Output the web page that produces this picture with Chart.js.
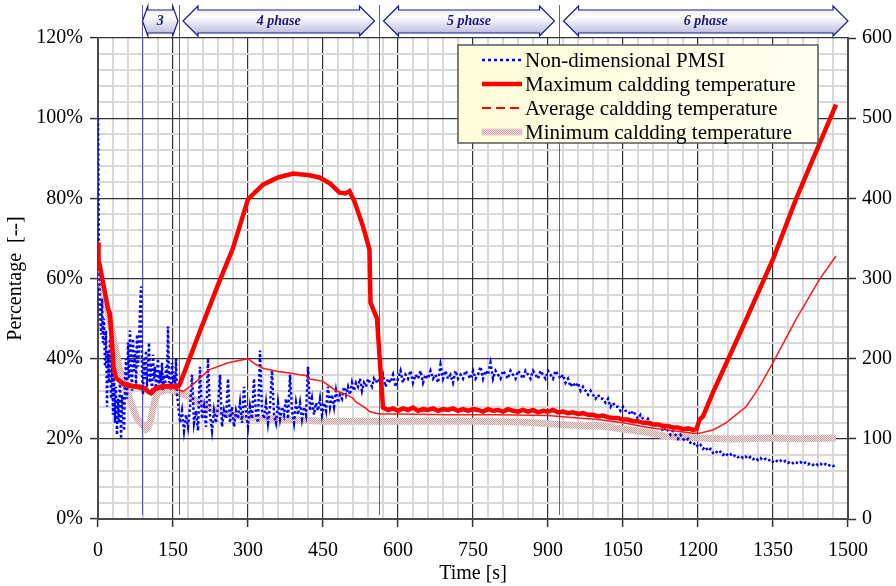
<!DOCTYPE html>
<html>
<head>
<meta charset="utf-8">
<script src="https://cdn.jsdelivr.net/npm/chart.js@4.4.1/dist/chart.umd.min.js"></script>
<style>
  html, body { margin: 0; padding: 0; background: #ffffff; }
  #wrap { width: 896px; height: 586px; position: relative; }
</style>
</head>
<body>
<div id="wrap"><canvas id="chart" width="896" height="586"></canvas></div>
<script>
// ---- PMSI (non-dimensional, %) sampled in three blocks ----
const pmsiEarlyStart = 0, pmsiEarlyStep = 2;
const pmsiEarly = [
  100, 64,
  52, 46, 55, 44, 50, 38, 47, 28, 42,
  34, 45, 30, 39, 26, 36, 24, 33, 21, 30,
  24, 35, 20, 31, 26, 22, 34, 40, 30, 44,
  35, 47, 38, 32, 45, 37, 42, 33, 46, 38,
  43, 52, 58, 36, 31, 40, 35, 42, 33, 38,
  44, 34, 39, 31, 41, 35, 38, 32, 36, 40,
  33, 37, 34, 39, 32, 36, 33, 38, 35, 48,
  34, 37, 32, 39, 34, 36, 33, 40, 31
];
const pmsiMidStart = 160, pmsiMidStep = 4;
const pmsiMid = [
  29, 24, 27, 22, 26, 23, 28, 36, 24, 27,
  22, 38, 25, 28, 23, 40, 26, 22, 27, 24,
  28, 36, 23, 27, 25, 35, 24, 28, 23, 27,
  25, 29, 24, 33, 26, 23, 28, 25, 35, 26,
  24, 42, 27, 25, 29, 24, 28, 37, 26, 24,
  29, 25, 28, 26, 30, 25, 36, 27, 24, 29,
  26, 29, 25, 28, 26, 38, 27, 30, 26, 29,
  27, 30, 26, 29, 27, 33, 28, 31, 28, 32,
  29, 31, 30, 33, 31, 33, 31, 34, 32, 34,
  33, 35, 32, 34, 33, 35, 34, 33, 35, 34
];
const pmsiLateStart = 560, pmsiLateStep = 5;
const pmsiLate = [
  35, 34, 36, 33, 35, 34, 36, 33,
  35, 37, 34, 36, 35, 37, 34, 36, 35, 37,
  34, 36, 35, 37, 35, 36, 34, 38.5, 35, 37,
  35, 36, 34, 37, 35, 36, 35, 37, 36, 35,
  37, 35, 36, 38, 35, 37, 36, 39, 35, 37,
  36, 35, 37, 36, 35, 37, 36, 35, 37, 36,
  35, 37, 36, 35, 37, 36, 35, 37, 36, 35,
  37, 36, 35, 37, 36, 35, 36, 34, 35, 33,
  34, 33, 34, 32, 33, 32, 31, 32, 31, 30,
  31, 30, 30, 29, 30, 28, 29, 28, 28, 27,
  28, 27, 27, 26, 27, 26, 25, 26, 25, 24,
  25, 24, 24, 23, 24, 23, 22, 23, 22, 21,
  22, 21, 20, 21, 20, 19.5, 20, 19, 18.5, 19,
  18, 18.5, 17.5, 18, 17, 17.5, 16.5, 17, 16.3, 16.8,
  16, 16.5, 15.8, 16.2, 15.5, 16, 15.4, 15.8, 15.2, 15.6,
  15, 15.5, 14.9, 15.3, 14.7, 15.2, 14.6, 15, 14.5, 14.9,
  14.3, 14.8, 14.2, 14.6, 14.1, 14.5, 14, 14.4, 13.9, 14.3,
  13.8, 14.2, 13.7, 14.1, 13.6, 14, 13.5, 13.9, 13.4, 13.8,
  13.3, 13.7, 13.2, 13.6, 13.2, 13.5
];

// ---- Maximum cladding temperature (right axis) ----
const maxTime = [
  0, 1, 3, 10, 20, 24, 28, 31, 36, 45, 55, 70, 85, 95, 100, 106, 115, 130, 145, 158,
  163, 200, 240, 270, 300, 330, 360, 390, 403, 420, 443, 465, 483, 495, 503, 513,
  530, 543, 545, 556, 558,
  570, 580, 590, 600, 610, 620, 630, 640, 650, 660, 670, 680, 690, 700, 710, 720,
  730, 740, 750, 760, 770, 780, 790, 800, 810, 820, 830, 840, 850, 860, 870, 880,
  890, 900, 910, 920, 930, 940, 950, 960, 970, 980, 990, 1000, 1010, 1020, 1030,
  1040, 1050, 1060, 1070, 1080, 1090, 1100, 1110, 1120, 1130, 1140, 1150, 1160,
  1170, 1180, 1190, 1197, 1203, 1210, 1230, 1263, 1300, 1350, 1396, 1440, 1476
];
const maxTemp = [
  345, 322, 318, 295, 262, 256, 220, 190, 176, 171, 168, 166, 165, 163, 159, 157, 163, 166, 166, 165,
  167, 228, 292, 338, 399, 417, 426, 431, 430, 429, 426, 418, 407, 406, 409, 396,
  365, 336, 270, 253, 250,
  139, 136, 138, 135, 138, 136, 139, 135, 137, 136, 138, 135, 137, 136, 138, 135,
  137, 135, 137, 136, 134, 137, 135, 136, 134, 137, 135, 134, 136, 134, 136, 133,
  135, 134, 136, 133, 134, 132, 133, 131, 132, 130, 130, 128, 129, 127, 126,
  126, 124, 124, 122, 122, 120, 120, 118, 118, 116, 116, 114, 114,
  112, 113, 111, 112, 124, 128, 158, 203, 254, 324, 399, 464, 517
];

// ---- Average cladding temperature (right axis) ----
const avgTime = [
  0, 5, 10, 20, 28, 35, 42, 50, 60, 75, 90, 100, 106, 115, 130, 150, 162, 170, 190,
  222, 260, 300, 315, 330, 360, 383, 403, 416, 420, 449, 476, 490, 509, 516, 536,
  543, 556, 563, 600, 700, 800, 900, 924, 960, 1000, 1050, 1100, 1150, 1190, 1203,
  1230, 1256, 1296, 1320, 1350, 1396, 1443, 1476
];
const avgTemp = [
  325, 310, 295, 255, 211, 180, 172, 166, 164, 163, 161, 157, 155, 160, 163, 163, 161, 159, 168,
  186, 195, 200, 193, 188, 184, 182, 180, 179, 175, 172, 160, 157, 151, 146, 138,
  134, 132, 131, 131, 130, 130, 129, 128, 126, 124, 120, 114, 110, 107, 107,
  111, 120, 140, 162, 195, 249, 299, 328
];

// ---- Minimum cladding temperature (right axis) ----
const minTime = [
  0, 10, 22, 32, 42, 52, 62, 70, 76, 82, 88, 96, 100, 106, 112, 120, 135, 150, 160,
  170, 182, 200, 225, 249, 280, 316, 383, 450, 520, 583, 650, 750, 850, 924, 970,
  1005, 1065, 1100, 1138, 1170, 1198, 1250, 1300, 1350, 1400, 1476
];
const minTemp = [
  315, 285, 253, 222, 190, 170, 153, 138, 128, 122, 118, 112, 114, 125, 145, 158, 161, 161, 157,
  156, 153, 145, 138, 132, 128, 126, 124, 122, 122, 122, 122, 122, 121, 118, 116,
  116, 111, 108, 103, 102, 101, 100, 100, 101, 100, 101
];

// ---- Phases along the time axis ----
const phaseEdges = [88, 161, 562, 922, 1500];
const phaseLabels = ['3', '4 phase', '5 phase', '6 phase'];

// ---- Legend captions ----
const seriesNames = [
  'Non-dimensional PMSI',
  'Maximum caldding temperature',
  'Average caldding temperature',
  'Minimum caldding temperature'
];

const FONT = "'Liberation Serif', 'Times New Roman', serif";

function stepped(start, step, values) {
  return values.map((v, i) => ({ x: start + i * step, y: v }));
}
function paired(times, values) {
  return times.map((t, i) => ({ x: t, y: values[i] }));
}

// Dotted pink/white fill used for the minimum temperature band
function makeHatch() {
  const c = document.createElement('canvas');
  c.width = 2; c.height = 2;
  const g = c.getContext('2d');
  g.fillStyle = '#f3e6e6';
  g.fillRect(0, 0, 2, 2);
  g.fillStyle = '#c99c9c';
  g.fillRect(0, 0, 1, 1);
  g.fillRect(1, 1, 1, 1);
  return g.createPattern(c, 'repeat');
}
const hatch = makeHatch();

const pmsiData = [].concat(
  stepped(pmsiEarlyStart, pmsiEarlyStep, pmsiEarly),
  stepped(pmsiMidStart, pmsiMidStep, pmsiMid),
  stepped(pmsiLateStart, pmsiLateStep, pmsiLate)
);

const legendStyles = [
  { color: '#0000ff', width: 2.5, dash: [3, 3] },
  { color: '#ff0000', width: 4.5, dash: [] },
  { color: '#ff0000', width: 2, dash: [9, 5] },
  { color: hatch, width: 6, dash: [], band: true }
];

const phasePlugin = {
  id: 'phases',
  afterDraw(chart) {
    const ctx = chart.ctx;
    const xs = chart.scales.x;
    ctx.save();
    const yTop = 6, yBot = 36, mid = (yTop + yBot) / 2;
    for (let i = 0; i < phaseLabels.length; i++) {
      const a = xs.getPixelForValue(phaseEdges[i]);
      const b = xs.getPixelForValue(phaseEdges[i + 1]);
      const gap = (b - a) < 60 ? 0.5 : 4.5;
      const x1 = a + gap, x2 = (i === phaseLabels.length - 1) ? b : b - gap;
      const head = Math.min(15, (x2 - x1) * 0.15);
      const bTop = yTop + 4, bBot = yBot - 3;
      ctx.beginPath();
      ctx.moveTo(x1, mid);
      ctx.lineTo(x1 + head, yTop);
      ctx.lineTo(x1 + head, bTop);
      ctx.lineTo(x2 - head, bTop);
      ctx.lineTo(x2 - head, yTop);
      ctx.lineTo(x2, mid);
      ctx.lineTo(x2 - head, yBot);
      ctx.lineTo(x2 - head, bBot);
      ctx.lineTo(x1 + head, bBot);
      ctx.lineTo(x1 + head, yBot);
      ctx.closePath();
      const grad = ctx.createLinearGradient(0, yTop, 0, yBot);
      grad.addColorStop(0, '#e4e4f2');
      grad.addColorStop(0.35, '#ffffff');
      grad.addColorStop(1, '#b4b4da');
      ctx.fillStyle = grad;
      ctx.fill();
      ctx.lineWidth = 1.2;
      ctx.strokeStyle = '#1c1c8c';
      ctx.stroke();
      ctx.fillStyle = '#1a1a7e';
      ctx.font = 'bold italic 14px ' + FONT;
      ctx.textAlign = 'center';
      ctx.textBaseline = 'middle';
      ctx.fillText(phaseLabels[i], (x1 + x2) / 2, mid);
    }
    // phase boundaries
    ctx.strokeStyle = 'rgba(40,40,160,0.75)';
    ctx.lineWidth = 1;
    for (let i = 0; i < phaseEdges.length - 1; i++) {
      const px = Math.round(xs.getPixelForValue(phaseEdges[i])) + 0.5;
      ctx.beginPath();
      ctx.moveTo(px, 5);
      ctx.lineTo(px, 515);
      ctx.stroke();
    }
    ctx.restore();
  }
};

const legendPlugin = {
  id: 'boxLegend',
  afterDraw(chart) {
    const ctx = chart.ctx;
    ctx.save();
    const bx = 458, by = 45, bw = 360, bh = 98;
    const g = ctx.createLinearGradient(bx, by, bx + bw, by + bh);
    g.addColorStop(0, '#fdfdd8');
    g.addColorStop(1, '#fffff2');
    ctx.fillStyle = g;
    ctx.fillRect(bx, by, bw, bh);
    ctx.strokeStyle = '#5a5a5a';
    ctx.lineWidth = 1.5;
    ctx.strokeRect(bx, by, bw, bh);
    const rows = [60, 84, 108, 132];
    ctx.font = '21px ' + FONT;
    ctx.textAlign = 'left';
    ctx.textBaseline = 'middle';
    for (let i = 0; i < seriesNames.length; i++) {
      const s = legendStyles[i];
      const y = rows[i];
      if (s.band) {
        ctx.fillStyle = s.color;
        ctx.fillRect(482, y - 3, 40, 6);
        ctx.strokeStyle = '#ebc8d2';
        ctx.lineWidth = 1;
        ctx.strokeRect(482, y - 3, 40, 6);
      } else {
        ctx.beginPath();
        ctx.setLineDash(s.dash);
        ctx.strokeStyle = s.color;
        ctx.lineWidth = s.width;
        ctx.moveTo(482, y);
        ctx.lineTo(522, y);
        ctx.stroke();
        ctx.setLineDash([]);
      }
      ctx.fillStyle = '#000000';
      ctx.fillText(seriesNames[i], 525, y + 1);
    }
    ctx.restore();
  }
};

const isMajorX = v => Math.abs(v % 150) < 1e-6;
const isMajorY = v => Math.abs(v % 20) < 1e-6;

new Chart(document.getElementById('chart'), {
  type: 'line',
  data: {
    datasets: [
      {
        label: seriesNames[1], data: paired(maxTime, maxTemp), yAxisID: 'y2',
        borderColor: '#ff0000', borderWidth: 4.5, pointRadius: 0, tension: 0, fill: false
      },
      {
        label: seriesNames[2], data: paired(avgTime, avgTemp), yAxisID: 'y2',
        borderColor: '#ff1a1a', borderWidth: 1.5, pointRadius: 0, tension: 0, fill: false
      },
      {
        label: seriesNames[0], data: pmsiData, yAxisID: 'y',
        borderColor: '#0000ff', borderWidth: 2.5, borderDash: [2.5, 2.5], pointRadius: 0,
        tension: 0, fill: false, borderCapStyle: 'butt'
      },
      {
        label: seriesNames[3], data: paired(minTime, minTemp), yAxisID: 'y2',
        borderColor: hatch, borderWidth: 7, pointRadius: 0, tension: 0, fill: false
      }
    ]
  },
  options: {
    responsive: false,
    animation: false,
    devicePixelRatio: 1,
    layout: { padding: { top: 38, left: 0, right: 0, bottom: 0 } },
    plugins: { legend: { display: false }, tooltip: { enabled: false } },
    scales: {
      x: {
        type: 'linear', position: 'bottom', min: 0, max: 1500,
        ticks: {
          stepSize: 30, autoSkip: false, maxRotation: 0, color: '#000',
          font: { family: FONT, size: 20 }, padding: 12,
          callback: v => isMajorX(v) ? String(v) : ''
        },
        grid: {
          color: c => isMajorX(c.tick.value) ? '#333333' : '#d8d8d8',
          lineWidth: c => isMajorX(c.tick.value) ? 1.2 : 2,
          tickColor: c => isMajorX(c.tick.value) ? '#333333' : 'rgba(0,0,0,0)',
          tickLength: 8, tickWidth: 1.5
        },
        border: { color: '#4a4a4a', width: 2 },
        title: { display: true, text: 'Time [s]', color: '#000', font: { family: FONT, size: 20 }, padding: { top: 0, bottom: 0 } },
        afterFit: s => { s.height = 67; }
      },
      y: {
        type: 'linear', position: 'left', min: 0, max: 120,
        ticks: {
          stepSize: 4, autoSkip: false, color: '#000',
          font: { family: FONT, size: 20 }, padding: 7,
          callback: v => isMajorY(v) ? v + '%' : ''
        },
        grid: {
          color: c => isMajorY(c.tick.value) ? '#333333' : '#d8d8d8',
          lineWidth: c => isMajorY(c.tick.value) ? 1.2 : 2,
          tickColor: c => isMajorY(c.tick.value) ? '#333333' : 'rgba(0,0,0,0)',
          tickLength: 8, tickWidth: 1.5
        },
        border: { color: '#4a4a4a', width: 2 },
        title: { display: true, text: 'Percentage  [--]', color: '#000', font: { family: FONT, size: 20 }, padding: { top: 4, bottom: 0 } },
        afterFit: s => { s.width = 98; }
      },
      y2: {
        type: 'linear', position: 'right', min: 0, max: 600,
        ticks: {
          stepSize: 100, color: '#000', font: { family: FONT, size: 20 }, padding: 6
        },
        grid: { drawOnChartArea: false, tickColor: '#333333', tickLength: 8, tickWidth: 1.5 },
        border: { color: '#4a4a4a', width: 2 },
        afterFit: s => { s.width = 48; }
      }
    }
  },
  plugins: [phasePlugin, legendPlugin]
});
</script>
</body>
</html>
